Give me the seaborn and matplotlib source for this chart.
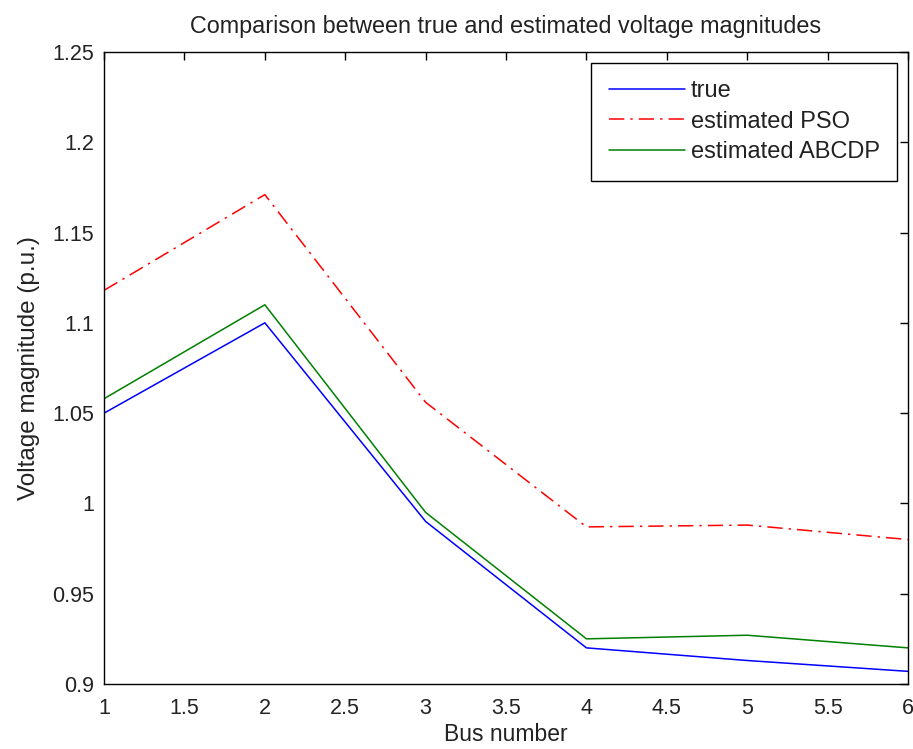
import numpy as np
import pandas as pd
import seaborn as sns
import matplotlib.pyplot as plt

# values
bus = [1, 2, 3, 4, 5, 6]
v_true = [1.050, 1.100, 0.990, 0.920, 0.913, 0.907]
v_pso = [1.118, 1.171, 1.056, 0.987, 0.988, 0.980]
v_abcdp = [1.058, 1.110, 0.995, 0.925, 0.927, 0.920]
labels = ['true', 'estimated PSO', 'estimated ABCDP']
xticks = ['1', '1.5', '2', '2.5', '3', '3.5', '4', '4.5', '5', '5.5', '6']
yticks = ['0.9', '0.95', '1', '1.05', '1.1', '1.15', '1.2', '1.25']

df = pd.DataFrame({
    'bus': bus * 3,
    'v': v_true + v_pso + v_abcdp,
    'series': [labels[0]] * 6 + [labels[1]] * 6 + [labels[2]] * 6,
})

sns.set_style('white')
plt.rcParams['font.family'] = ['Liberation Sans', 'DejaVu Sans']
plt.rcParams['xtick.direction'] = 'in'
plt.rcParams['ytick.direction'] = 'in'

fig = plt.figure(figsize=(9.13, 7.49), dpi=100)
ax = fig.add_axes([0.114, 0.0868, 0.8805, 0.8438])

colors = {'true': '#0000ff', 'estimated PSO': '#ff0000', 'estimated ABCDP': '#008000'}
dashes = {'true': '', 'estimated PSO': (10, 4, 1.5, 4), 'estimated ABCDP': ''}
sns.lineplot(data=df, x='bus', y='v', hue='series', style='series',
             palette=colors, dashes=dashes, linewidth=1.1, ax=ax)

ax.set_xlim(1, 6)
ax.set_ylim(0.9, 1.25)
ax.set_xticks(np.arange(1, 6.01, 0.5))
ax.set_xticklabels(xticks)
ax.set_yticks(np.arange(0.9, 1.2501, 0.05))
ax.set_yticklabels(yticks)
ax.tick_params(axis='both', which='both', top=True, right=True, labelsize=15.5,
               length=6, width=1, color='black', labelcolor='#222222')
ax.tick_params(axis='x', pad=10)
ax.tick_params(axis='y', pad=7)
for s in ax.spines.values():
    s.set_color('black')
    s.set_linewidth(1)

ax.set_xlabel('Bus number', fontsize=16.5, labelpad=3, color='#222222')
ax.set_ylabel('Voltage magnitude (p.u.)', fontsize=17.5, labelpad=9, color='#222222')
ax.set_title('Comparison between true and estimated voltage magnitudes',
             fontsize=16.8, pad=14, color='#222222')

leg = ax.legend(loc='upper right', prop={'size': 17}, frameon=True, fancybox=False,
                edgecolor='black', framealpha=1, borderaxespad=0.45,
                handlelength=3.2, handletextpad=0.25, labelspacing=0.35,
                borderpad=0.75)
leg.get_frame().set_linewidth(1)
for t in leg.get_texts():
    t.set_color('#222222')

fig.savefig('out.png', dpi=100)
